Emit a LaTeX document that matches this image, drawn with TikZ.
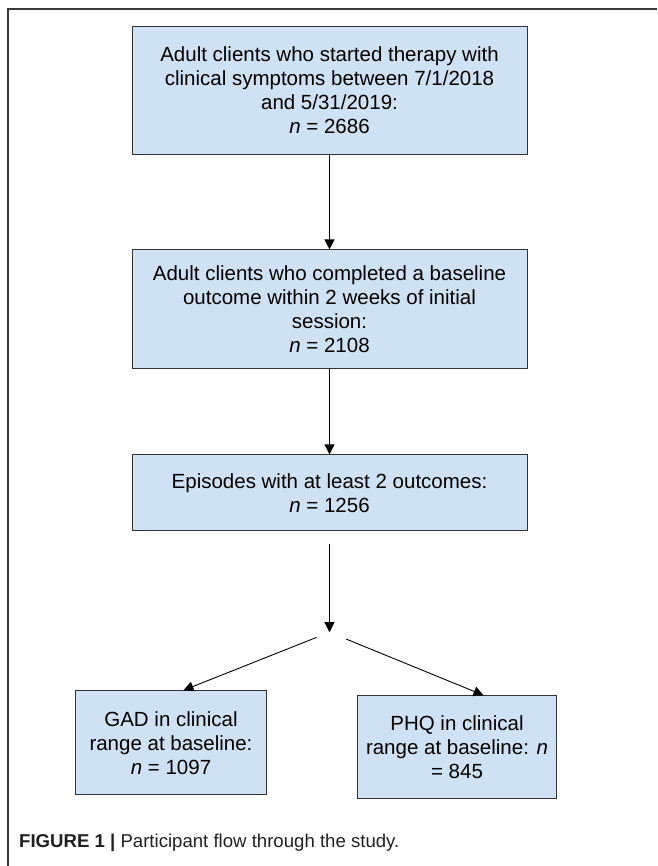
\documentclass[tikz,border=0pt]{standalone}
\usepackage{fontspec}
\setmainfont{Liberation Sans}
\usepackage{xcolor}
\definecolor{fboxfill}{HTML}{CFE2F3}
\definecolor{fline}{HTML}{333333}
\definecolor{fframe}{HTML}{3A3A3A}
\definecolor{fcap}{HTML}{231F20}
\usepackage{tikz}
\usetikzlibrary{arrows.meta,positioning,calc}

\begin{document}
\begin{tikzpicture}[
  x=1pt,y=1pt,
  font=\fontsize{20.5}{24}\selectfont,
  box/.style={rectangle,draw=fline,line width=0.9pt,fill=fboxfill,minimum width=395pt,align=center,inner sep=4pt},
  sbox/.style={box,minimum width=191pt},
  arr/.style={-{Triangle[length=10pt,width=10pt]},draw=black,line width=0.9pt}
]
\useasboundingbox (0,0) rectangle (657,866);
% frame
\draw[fframe,line width=1.4pt] (8,0) -- (8,857) -- (657,857);
% main column
\node[box,minimum height=128pt] (started) at (329.5,776) {Adult clients who started therapy with\\clinical symptoms between 7/1/2018\\and 5/31/2019:\\\textit{n} = 2686};
\node[box,minimum height=119pt,below=95pt of started] (baseline) {Adult clients who completed a baseline\\outcome within 2 weeks of initial\\session:\\\textit{n} = 2108};
\node[box,minimum height=76pt,below=85pt of baseline] (episodes) {Episodes with at least 2 outcomes:\\\textit{n} = 1256};
\coordinate[below=101pt of episodes] (split);
% two outcome groups
\node[sbox,minimum height=104pt,below=58pt of split,xshift=-158.5pt] (gad) {GAD in clinical\\range at baseline:\\\textit{n} = 1097};
\node[sbox,minimum width=199pt,minimum height=103pt,below=63pt of split,xshift=127.5pt] (phq) {PHQ in clinical\\range at baseline: \textit{n}\\= 845};
\draw[arr] (started) -- (baseline);
\draw[arr] (baseline) -- (episodes);
\draw[arr,shorten <=13pt] (episodes) -- (split);
\draw[arr,shorten <=14pt] (split) -- ([xshift=12.5pt]gad.north);
\draw[arr,shorten <=18pt] (split) -- ([xshift=26.5pt]phq.north);
% caption
\node[anchor=west,inner sep=0pt,text=fcap,font=\fontsize{18.6}{20}\selectfont] (caption) at (19,23) {\textbf{FIGURE 1 |} Participant flow through the study.};
\end{tikzpicture}
\end{document}
